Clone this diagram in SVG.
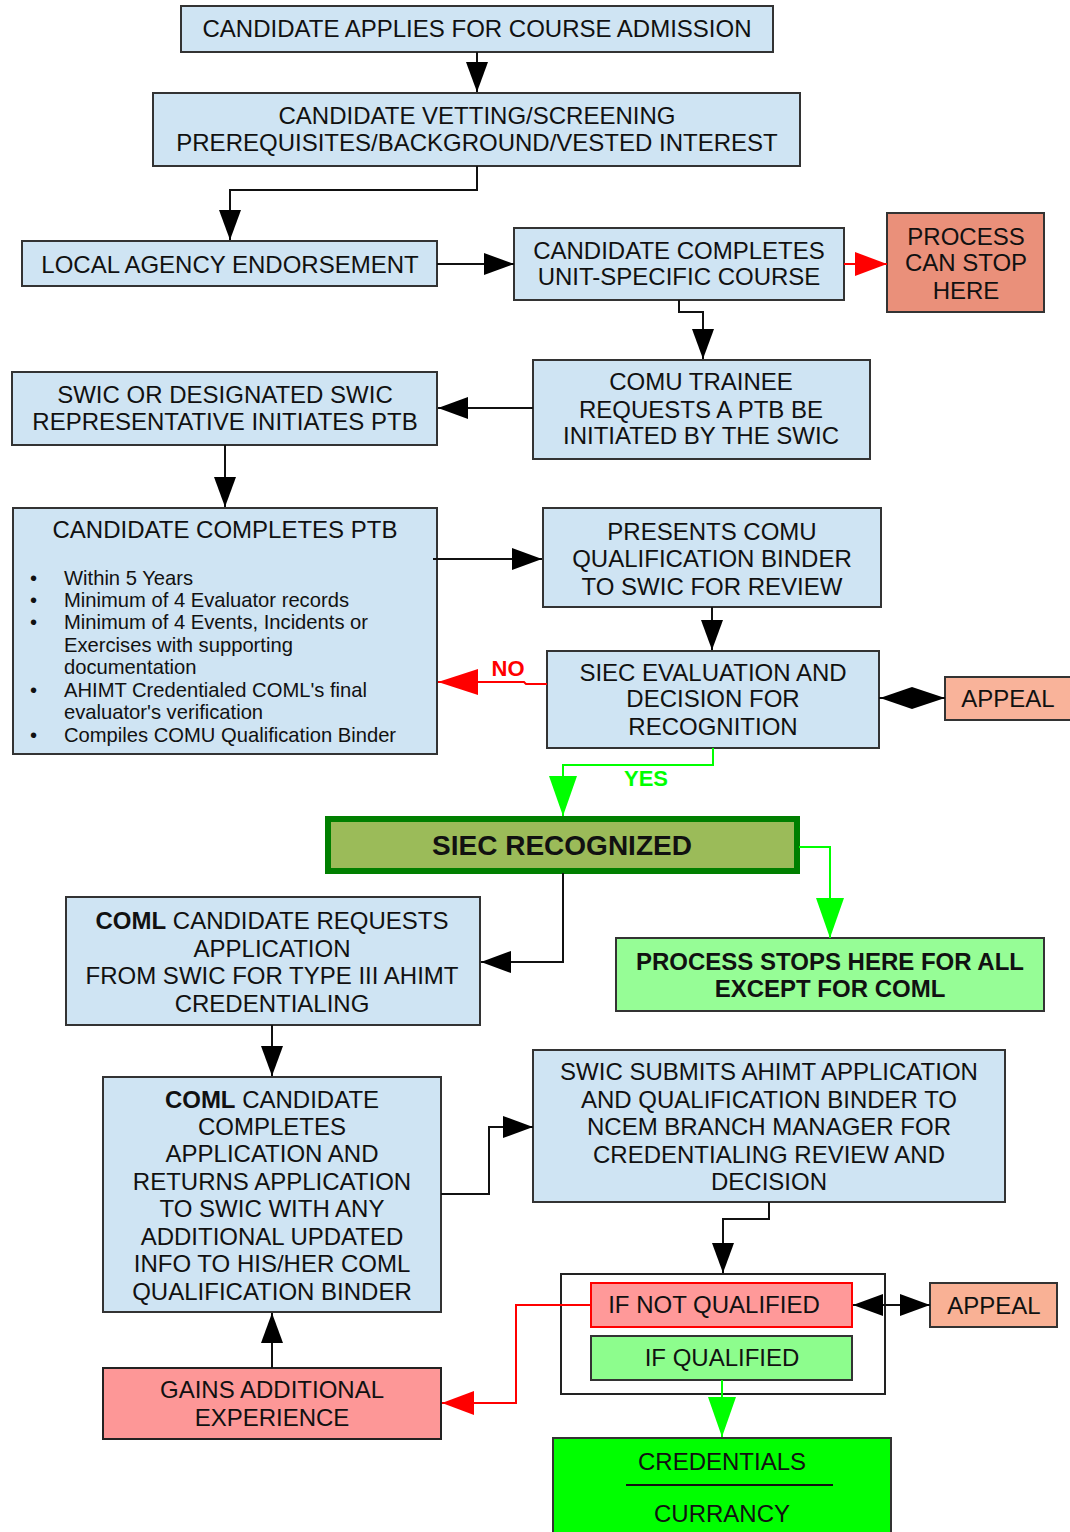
<svg xmlns="http://www.w3.org/2000/svg" width="1070" height="1532" viewBox="0 0 1070 1532">
<style>
.box{fill:#cfe4f3;stroke:#333;stroke-width:2}
.t{font-family:"Liberation Sans",Arial,sans-serif;font-size:24px;fill:#111;text-anchor:middle}
.s{font-family:"Liberation Sans",Arial,sans-serif;font-size:20.2px;fill:#111}
.bd{font-weight:bold}
.c{fill:none;stroke:#111;stroke-width:2}
.cr{fill:none;stroke:#ff0000;stroke-width:2}
.cg{fill:none;stroke:#00ff00;stroke-width:2}
</style>
<defs>
<marker id="ah" viewBox="0 0 30 22" refX="30" refY="11" markerWidth="30" markerHeight="22" markerUnits="userSpaceOnUse" orient="auto-start-reverse"><path d="M0,0 L30,11 L0,22 z" fill="#000"/></marker>
<marker id="ahr" viewBox="0 0 32 24" refX="32" refY="12" markerWidth="32" markerHeight="24" markerUnits="userSpaceOnUse" orient="auto"><path d="M0,0 L32,12 L0,24 z" fill="#ff0000"/></marker>
<marker id="ahr2" viewBox="0 0 40 26" refX="40" refY="13" markerWidth="40" markerHeight="26" markerUnits="userSpaceOnUse" orient="auto"><path d="M0,0 L40,13 L0,26 z" fill="#ff0000"/></marker>
<marker id="ahg" viewBox="0 0 40 28" refX="40" refY="14" markerWidth="40" markerHeight="28" markerUnits="userSpaceOnUse" orient="auto"><path d="M0,0 L40,14 L0,28 z" fill="#00ff00"/></marker>
</defs>

<g id="n-applies">
<rect class="box" x="181" y="6" width="592" height="46"/>
<text class="t" x="477" y="37">CANDIDATE APPLIES FOR COURSE ADMISSION</text>
</g>

<g id="n-vetting">
<rect class="box" x="153" y="93" width="647" height="73"/>
<text class="t" x="477" y="124">CANDIDATE VETTING/SCREENING</text>
<text class="t" x="477" y="151">PREREQUISITES/BACKGROUND/VESTED INTEREST</text>
</g>

<g id="n-local">
<rect class="box" x="22" y="241" width="415" height="45"/>
<text class="t" x="230" y="273">LOCAL AGENCY ENDORSEMENT</text>
</g>

<g id="n-unit">
<rect class="box" x="514" y="228" width="330" height="72"/>
<text class="t" x="679" y="259">CANDIDATE COMPLETES</text>
<text class="t" x="679" y="285">UNIT-SPECIFIC COURSE</text>
</g>

<g id="n-canstop">
<rect x="887" y="213" width="157" height="99" fill="#ea907a" stroke="#333" stroke-width="2"/>
<text class="t" x="966" y="245">PROCESS</text>
<text class="t" x="966" y="271">CAN STOP</text>
<text class="t" x="966" y="299">HERE</text>
</g>

<g id="n-trainee">
<rect class="box" x="533" y="360" width="337" height="99"/>
<text class="t" x="701" y="390">COMU TRAINEE</text>
<text class="t" x="701" y="418">REQUESTS A PTB BE</text>
<text class="t" x="701" y="444">INITIATED BY THE SWIC</text>
</g>

<g id="n-swic">
<rect class="box" x="12" y="372" width="425" height="73"/>
<text class="t" x="225" y="403">SWIC OR DESIGNATED SWIC</text>
<text class="t" x="225" y="430">REPRESENTATIVE INITIATES PTB</text>
</g>

<g id="n-ptb">
<rect class="box" x="13" y="508" width="424" height="246"/>
<text class="t" x="225" y="538">CANDIDATE COMPLETES PTB</text>
<g class="s">
<text x="30" y="585">•</text><text x="64" y="585">Within 5 Years</text>
<text x="30" y="607">•</text><text x="64" y="607">Minimum of 4 Evaluator records</text>
<text x="30" y="629">•</text><text x="64" y="629">Minimum of 4 Events, Incidents or</text>
<text x="64" y="652">Exercises with supporting</text>
<text x="64" y="674">documentation</text>
<text x="30" y="697">•</text><text x="64" y="697">AHIMT Credentialed COML's final</text>
<text x="64" y="719">evaluator's verification</text>
<text x="30" y="742">•</text><text x="64" y="742">Compiles COMU Qualification Binder</text>
</g>
</g>

<g id="n-presents">
<rect class="box" x="543" y="508" width="338" height="99"/>
<text class="t" x="712" y="540">PRESENTS COMU</text>
<text class="t" x="712" y="567">QUALIFICATION BINDER</text>
<text class="t" x="712" y="595">TO SWIC FOR REVIEW</text>
</g>

<g id="n-siec-eval">
<rect class="box" x="547" y="651" width="332" height="97"/>
<text class="t" x="713" y="681">SIEC EVALUATION AND</text>
<text class="t" x="713" y="707">DECISION FOR</text>
<text class="t" x="713" y="735">RECOGNITION</text>
</g>

<g id="n-appeal1">
<rect x="945" y="677" width="130" height="43" fill="#f9b39a" stroke="#333" stroke-width="2"/>
<text class="t" x="1008" y="707">APPEAL</text>
</g>

<g id="n-recognized">
<rect x="328" y="819" width="469" height="52" fill="#9bbb59" stroke="#007f00" stroke-width="6"/>
<text class="t bd" x="562" y="855" style="font-size:28px">SIEC RECOGNIZED</text>
</g>

<g id="n-stops">
<rect x="616" y="938" width="428" height="73" fill="#96fd96" stroke="#333" stroke-width="2"/>
<text class="t bd" x="830" y="970">PROCESS STOPS HERE FOR ALL</text>
<text class="t bd" x="830" y="997">EXCEPT FOR COML</text>
</g>

<g id="n-requests">
<rect class="box" x="66" y="897" width="414" height="128"/>
<text class="t" x="272" y="929"><tspan class="bd">COML</tspan> CANDIDATE REQUESTS</text>
<text class="t" x="272" y="957">APPLICATION</text>
<text class="t" x="272" y="984">FROM SWIC FOR TYPE III AHIMT</text>
<text class="t" x="272" y="1012">CREDENTIALING</text>
</g>

<g id="n-completes">
<rect class="box" x="103" y="1077" width="338" height="235"/>
<text class="t" x="272" y="1108"><tspan class="bd">COML</tspan> CANDIDATE</text>
<text class="t" x="272" y="1135">COMPLETES</text>
<text class="t" x="272" y="1162">APPLICATION AND</text>
<text class="t" x="272" y="1190">RETURNS APPLICATION</text>
<text class="t" x="272" y="1217">TO SWIC WITH ANY</text>
<text class="t" x="272" y="1245">ADDITIONAL UPDATED</text>
<text class="t" x="272" y="1272">INFO TO HIS/HER COML</text>
<text class="t" x="272" y="1300">QUALIFICATION BINDER</text>
</g>

<g id="n-submits">
<rect class="box" x="533" y="1050" width="472" height="152"/>
<text class="t" x="769" y="1080">SWIC SUBMITS AHIMT APPLICATION</text>
<text class="t" x="769" y="1108">AND QUALIFICATION BINDER TO</text>
<text class="t" x="769" y="1135">NCEM BRANCH MANAGER FOR</text>
<text class="t" x="769" y="1163">CREDENTIALING REVIEW AND</text>
<text class="t" x="769" y="1190">DECISION</text>
</g>

<g id="n-decision">
<rect x="561" y="1274" width="324" height="120" fill="#fff" stroke="#222" stroke-width="2"/>
<rect x="591" y="1283" width="261" height="44" fill="#ff9999" stroke="#ff0000" stroke-width="2"/>
<text class="t" x="714" y="1313">IF NOT QUALIFIED</text>
<rect x="591" y="1336" width="261" height="44" fill="#8dfd8d" stroke="#333" stroke-width="2"/>
<text class="t" x="722" y="1366">IF QUALIFIED</text>
</g>

<g id="n-appeal2">
<rect x="930" y="1283" width="127" height="44" fill="#f9b195" stroke="#333" stroke-width="2"/>
<text class="t" x="994" y="1314">APPEAL</text>
</g>

<g id="n-gains">
<rect x="103" y="1368" width="338" height="71" fill="#fd9797" stroke="#222" stroke-width="2"/>
<text class="t" x="272" y="1398">GAINS ADDITIONAL</text>
<text class="t" x="272" y="1426">EXPERIENCE</text>
</g>

<g id="n-credentials">
<rect x="553" y="1438" width="338" height="100" fill="#00ff00" stroke="#333" stroke-width="2"/>
<text class="t" x="722" y="1470">CREDENTIALS</text>
<line x1="626" y1="1485" x2="833" y2="1485" stroke="#111" stroke-width="2"/>
<text class="t" x="722" y="1522">CURRANCY</text>
</g>

<g id="connectors">
<path class="c" d="M477,52 V92" marker-end="url(#ah)"/>
<path class="c" d="M477,166 V190 H230 V240" marker-end="url(#ah)"/>
<path class="c" d="M437,264 H514" marker-end="url(#ah)"/>
<path class="cr" d="M844,264 H887" marker-end="url(#ahr)"/>
<path class="c" d="M679,300 V312 H703 V359" marker-end="url(#ah)"/>
<path class="c" d="M533,408 H438" marker-end="url(#ah)"/>
<path class="c" d="M225,445 V507" marker-end="url(#ah)"/>
<path class="c" d="M433,559 H542" marker-end="url(#ah)"/>
<path class="c" d="M712,607 V650" marker-end="url(#ah)"/>
<path class="cr" d="M547,684 H526 L524,682 H438" marker-end="url(#ahr2)"/>
<path class="c" d="M879,698 H945"/>
<polygon points="880,698 912,687 945,698 912,709" fill="#000"/>
<path class="cg" d="M713,748 V765 H563 V816" marker-end="url(#ahg)"/>
<path class="cg" d="M799,847 H830 V938" marker-end="url(#ahg)"/>
<path class="c" d="M563,873 V962 H481" marker-end="url(#ah)"/>
<path class="c" d="M272,1025 V1076" marker-end="url(#ah)"/>
<path class="c" d="M441,1194 H489 V1127 H533" marker-end="url(#ah)"/>
<path class="c" d="M769,1202 V1219 H723 V1273" marker-end="url(#ah)"/>
<path class="c" d="M853,1305 H930" marker-start="url(#ah)" marker-end="url(#ah)"/>
<path class="cr" d="M591,1305 H516 V1403 H442" marker-end="url(#ahr)"/>
<path class="c" d="M272,1368 V1313" marker-end="url(#ah)"/>
<path class="cg" d="M722,1380 V1437" marker-end="url(#ahg)"/>
<text x="508" y="676" font-family="Liberation Sans,Arial,sans-serif" font-size="22" font-weight="bold" fill="#ff0000" text-anchor="middle">NO</text>
<text x="646" y="786" font-family="Liberation Sans,Arial,sans-serif" font-size="22" font-weight="bold" fill="#00ff00" text-anchor="middle">YES</text>
</g>
</svg>
